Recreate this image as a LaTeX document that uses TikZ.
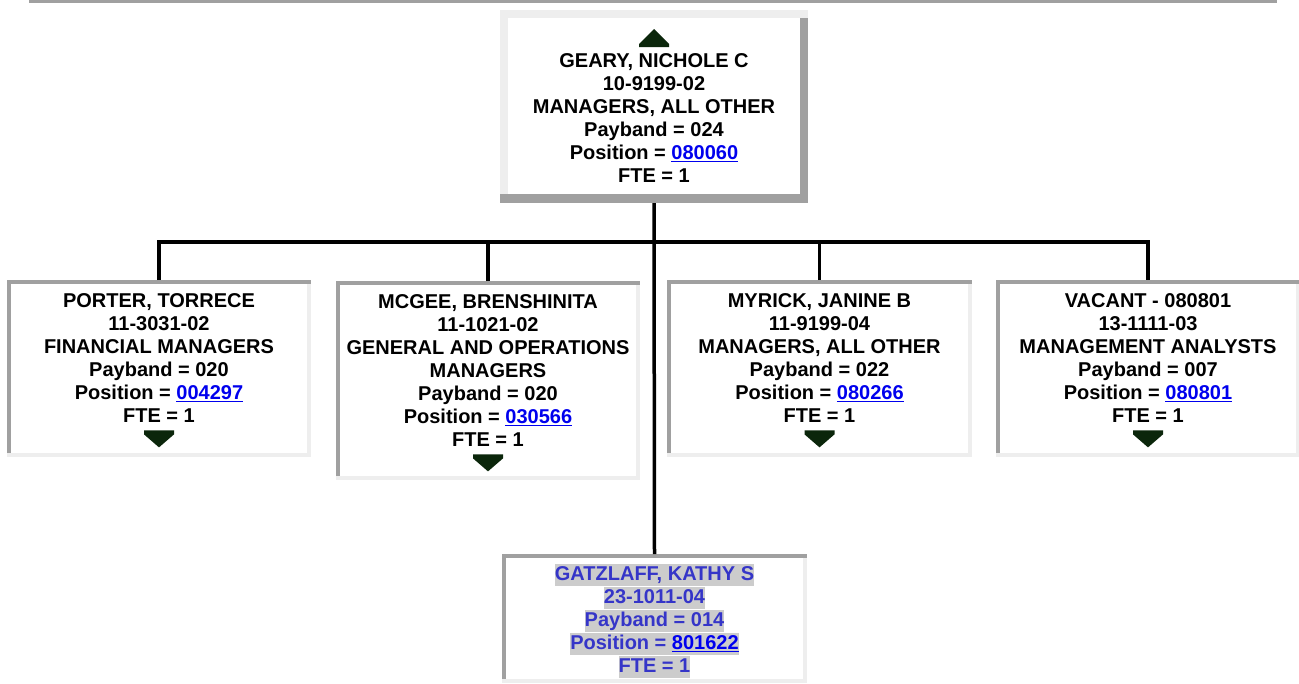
\documentclass[tikz,border=0pt]{standalone}
\usepackage{fontspec}
\setmainfont{Liberation Sans}
\usepackage{tikz}
\usetikzlibrary{positioning}

\definecolor{boxdark}{HTML}{A0A0A0}
\definecolor{boxlite}{HTML}{EEEEEE}
\definecolor{tridark}{HTML}{0B260B}
\definecolor{linkblue}{HTML}{0000EE}
\definecolor{selblue}{HTML}{3535C8}
\definecolor{selgray}{HTML}{CCCCCC}

\newcommand{\lnk}[1]{\textcolor{linkblue}{\underline{#1}}}
\newcommand{\hl}[1]{\colorbox{selgray}{\rule[-5.5pt]{0pt}{21.5pt}#1}}
\setlength{\fboxsep}{0pt}

\tikzset{
  outset/.style={fill=white, inner sep=0pt, outer sep=0pt,
    path picture={
      \fill[boxlite] (path picture bounding box.north west) rectangle ([yshift=-8pt]path picture bounding box.north east);
      \fill[boxlite] (path picture bounding box.north west) rectangle ([xshift=8pt]path picture bounding box.south west);
      \fill[boxdark] ([xshift=-8pt,yshift=-8pt]path picture bounding box.north east) rectangle (path picture bounding box.south east);
      \fill[boxdark] ([yshift=9pt]path picture bounding box.south west) rectangle (path picture bounding box.south east);
    }},
  inset/.style={fill=white, inner sep=0pt, outer sep=0pt,
    path picture={
      \fill[boxdark] (path picture bounding box.north west) rectangle ([xshift=4pt]path picture bounding box.south west);
      \fill[boxlite] ([yshift=4pt]path picture bounding box.south west) rectangle (path picture bounding box.south east);
      \fill[boxlite] ([xshift=-4pt]path picture bounding box.north east) rectangle (path picture bounding box.south east);
      \fill[boxdark] (path picture bounding box.north west) rectangle ([yshift=-4pt]path picture bounding box.north east);
    }},
  card/.style={align=center, inner sep=0pt, font=\fontsize{20}{23}\selectfont\bfseries},
  tri/.style={fill=tridark},
  wire/.style={line width=3.5pt}
}

\begin{document}
\begin{tikzpicture}[x=1pt,y=-1pt]
\useasboundingbox (0,0) rectangle (1299,683);
\fill[boxdark] (29,0) rectangle (1277,3);

% boxes
\node[outset, minimum width=308pt, minimum height=193pt] (geary) at (654,106.5) {};
\node[inset, minimum width=304pt, minimum height=177pt] (porter) at (159,368.5) {};
\node[inset, minimum width=304pt, minimum height=199pt] (mcgee) at (488,380.5) {};
\node[inset, minimum width=305pt, minimum height=177pt] (myrick) at (819.5,368.5) {};
\node[inset, minimum width=304pt, minimum height=177pt] (vacant) at (1148,368.5) {};
\node[inset, minimum width=305pt, minimum height=129pt] (gatz) at (654.5,618.5) {};

% connectors
\coordinate (bus) at (654,242);
\draw[wire] (geary.south) -- (gatz.north);
\draw[wire] (porter.north) |- (bus) -| (vacant.north);
\draw[wire] (mcgee.north) -- (mcgee.north |- bus);
\draw[wire] (myrick.north) -- (myrick.north |- bus);

% texts
\node[card, below=43pt of geary.north] (tgeary) {GEARY, NICHOLE C\\10-9199-02\\MANAGERS, ALL OTHER\\Payband = 024\\Position = \lnk{080060}\\FTE = 1};
\fill[tri] ([yshift=6pt]tgeary.north) ++(-15,0) -- ++(30,0) -- ++(0,-3) -- ++(-15,-15) -- ++(-15,15) -- cycle;

\node[card, below=13pt of porter.north] (tporter) {PORTER, TORRECE\\11-3031-02\\FINANCIAL MANAGERS\\Payband = 020\\Position = \lnk{004297}\\FTE = 1};
\fill[tri] ([yshift=-8pt]tporter.south) ++(-15,0) -- ++(30,0) -- ++(0,4) -- ++(-15,13) -- ++(-15,-13) -- cycle;

\node[card, below=13pt of mcgee.north] (tmcgee) {MCGEE, BRENSHINITA\\11-1021-02\\GENERAL AND OPERATIONS\\MANAGERS\\Payband = 020\\Position = \lnk{030566}\\FTE = 1};
\fill[tri] ([yshift=-8pt]tmcgee.south) ++(-15,0) -- ++(30,0) -- ++(0,4) -- ++(-15,13) -- ++(-15,-13) -- cycle;

\node[card, below=13pt of myrick.north] (tmyrick) {MYRICK, JANINE B\\11-9199-04\\MANAGERS, ALL OTHER\\Payband = 022\\Position = \lnk{080266}\\FTE = 1};
\fill[tri] ([yshift=-8pt]tmyrick.south) ++(-15,0) -- ++(30,0) -- ++(0,4) -- ++(-15,13) -- ++(-15,-13) -- cycle;

\node[card, below=13pt of vacant.north] (tvacant) {VACANT - 080801\\13-1111-03\\MANAGEMENT ANALYSTS\\Payband = 007\\Position = \lnk{080801}\\FTE = 1};
\fill[tri] ([yshift=-8pt]tvacant.south) ++(-15,0) -- ++(30,0) -- ++(0,4) -- ++(-15,13) -- ++(-15,-13) -- cycle;

\node[card, text=selblue, below=10pt of gatz.north] (tgatz) {\hl{GATZLAFF, KATHY S}\\\hl{23-1011-04}\\\hl{Payband = 014}\\\hl{Position = \lnk{801622}}\\\hl{FTE = 1}};

\end{tikzpicture}
\end{document}
